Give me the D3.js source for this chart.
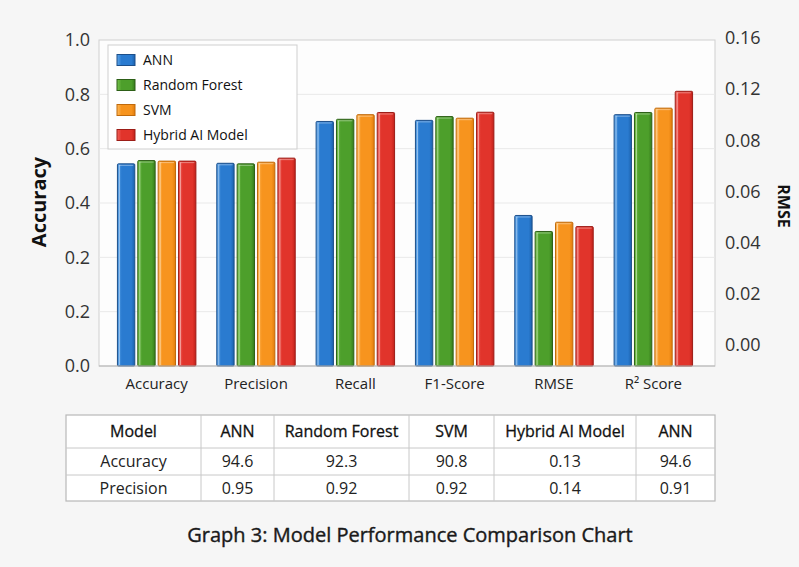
<!DOCTYPE html>
<html>
<head>
<meta charset="utf-8">
<script src="https://cdnjs.cloudflare.com/ajax/libs/d3/7.8.5/d3.min.js"></script>
<style>
  html, body { margin: 0; padding: 0; background: #f6f6f6; }
  svg { display: block; font-family: "Open Sans", "Noto Sans", sans-serif; }
</style>
</head>
<body>
<div id="chart"></div>
<script>
// ---------- data ----------
const categories = ["Accuracy", "Precision", "Recall", "F1-Score", "RMSE", "R² Score"];
const models = ["ANN", "Random Forest", "SVM", "Hybrid AI Model"];
const annValues    = [0.546, 0.548, 0.702, 0.706, 0.356, 0.727];
const rfValues     = [0.558, 0.546, 0.710, 0.720, 0.297, 0.735];
const svmValues    = [0.556, 0.552, 0.727, 0.714, 0.331, 0.751];
const hybridValues = [0.556, 0.567, 0.735, 0.736, 0.315, 0.813];
const leftTickValues = [-0.2, 0, 0.2, 0.4, 0.6, 0.8, 1.0];
const leftTickLabels = ["0.0", "0.2", "0.2", "0.4", "0.6", "0.8", "1.0"];
const rightTickLabels = ["0.00", "0.02", "0.04", "0.06", "0.08", "0.12", "0.16"];
const tableHeader = ["Model", "ANN", "Random Forest", "SVM", "Hybrid AI Model", "ANN"];
const accuracyRow = ["Accuracy", "94.6", "92.3", "90.8", "0.13", "94.6"];
const precisionRow = ["Precision", "0.95", "0.92", "0.92", "0.14", "0.91"];
const titleText = "Graph 3: Model Performance Comparison Chart";

const seriesValues = [annValues, rfValues, svmValues, hybridValues];
const palette = [
  { light: "#5ea6ea", base: "#2a7bd0", dark: "#1c62ad", stroke: "#1d4f8a" },
  { light: "#78c54e", base: "#4d9f2b", dark: "#377d1c", stroke: "#2d5f17" },
  { light: "#ffbb5c", base: "#f7941e", dark: "#e27d0d", stroke: "#c06a0c" },
  { light: "#f2645d", base: "#e1342b", dark: "#c2221b", stroke: "#9c1d17" }
];

// ---------- layout ----------
const W = 799, H = 567;
const plot = { left: 99, right: 715, top: 40, bottom: 366 };

const svg = d3.select("#chart").append("svg").attr("width", W).attr("height", H);
svg.append("rect").attr("width", W).attr("height", H).attr("fill", "#f6f6f6");

const defs = svg.append("defs");
palette.forEach((p, i) => {
  const g = defs.append("linearGradient").attr("id", "grad" + i)
    .attr("x1", "0%").attr("x2", "100%").attr("y1", "0%").attr("y2", "0%");
  g.append("stop").attr("offset", "0%").attr("stop-color", p.light);
  g.append("stop").attr("offset", "25%").attr("stop-color", p.base);
  g.append("stop").attr("offset", "80%").attr("stop-color", p.base);
  g.append("stop").attr("offset", "100%").attr("stop-color", p.dark);
});

// plot background + frame
svg.append("rect")
  .attr("x", plot.left).attr("y", plot.top)
  .attr("width", plot.right - plot.left).attr("height", plot.bottom - plot.top)
  .attr("fill", "#fdfdfd").attr("stroke", "#cfcfcf").attr("stroke-width", 1);

// scales
const y = d3.scaleLinear().domain([-0.2, 1.0]).range([plot.bottom, plot.top]);
const x0 = d3.scaleBand().domain(categories)
  .range([plot.left + 8, plot.right - 12]).paddingInner(0.2).paddingOuter(0.1);
const x1 = d3.scaleBand().domain(models).range([0, x0.bandwidth()]).paddingInner(0.1);
const yRight = d3.scalePoint().domain(rightTickLabels).range([345, 38]);

// gridlines
svg.append("g").selectAll("line").data(leftTickValues.slice(1, -1)).join("line")
  .attr("x1", plot.left).attr("x2", plot.right)
  .attr("y1", d => y(d)).attr("y2", d => y(d))
  .attr("stroke", "#e9e9e9").attr("stroke-width", 1);

// left axis
const leftAxis = d3.axisLeft(y).tickValues(leftTickValues)
  .tickFormat((d, i) => leftTickLabels[i]).tickSize(0).tickPadding(9);
const gl = svg.append("g").attr("transform", `translate(${plot.left},0)`).call(leftAxis);
gl.select(".domain").remove();
gl.selectAll("text").attr("font-size", 18).attr("fill", "#333")
  .attr("font-family", "'Open Sans', sans-serif");

// right axis
const rightAxis = d3.axisRight(yRight).tickSize(0).tickPadding(10);
const gr = svg.append("g").attr("transform", `translate(${plot.right},0)`).call(rightAxis);
gr.select(".domain").remove();
gr.selectAll("text").attr("font-size", 18).attr("fill", "#333")
  .attr("font-family", "'Open Sans', sans-serif");

// bars
const groups = svg.append("g").selectAll("g").data(categories).join("g")
  .attr("transform", d => `translate(${x0(d)},0)`);
const barData = (c, ci) => models.map((m, mi) => ({ m, mi, v: seriesValues[mi][ci] }));
groups.selectAll("rect.bar").data(barData)
  .join("rect").attr("class", "bar")
  .attr("x", d => x1(d.m) + 0.5)
  .attr("y", d => y(d.v) + 0.5)
  .attr("width", x1.bandwidth() - 1)
  .attr("height", d => y(-0.2) - y(d.v) - 0.5)
  .attr("rx", 1)
  .attr("fill", d => `url(#grad${d.mi})`)
  .attr("stroke", d => palette[d.mi].stroke).attr("stroke-width", 1);
groups.selectAll("line.hl").data(barData)
  .join("line").attr("class", "hl")
  .attr("x1", d => x1(d.m) + 2.5).attr("x2", d => x1(d.m) + 2.5)
  .attr("y1", d => y(d.v) + 2).attr("y2", y(-0.2) - 1)
  .attr("stroke", "#ffffff").attr("stroke-opacity", 0.45).attr("stroke-width", 1);
groups.selectAll("line.top").data(barData)
  .join("line").attr("class", "top")
  .attr("x1", d => x1(d.m) + 2).attr("x2", d => x1(d.m) + x1.bandwidth() - 2)
  .attr("y1", d => y(d.v) + 2).attr("y2", d => y(d.v) + 2)
  .attr("stroke", "#ffffff").attr("stroke-opacity", 0.4).attr("stroke-width", 1);

// baseline
svg.append("line").attr("x1", plot.left).attr("x2", plot.right)
  .attr("y1", plot.bottom).attr("y2", plot.bottom)
  .attr("stroke", "#b5b5b5").attr("stroke-width", 1.2);

// x axis labels
const bottomAxis = d3.axisBottom(x0).tickSize(0).tickPadding(12);
const gb = svg.append("g").attr("transform", `translate(0,${plot.bottom})`).call(bottomAxis);
gb.select(".domain").remove();
gb.selectAll("text").attr("font-size", 15).attr("fill", "#222")
  .attr("font-family", "'Open Sans', sans-serif");

// axis titles
svg.append("text").attr("transform", "translate(46,202) rotate(-90)")
  .attr("text-anchor", "middle").attr("font-size", 20).attr("font-weight", 700)
  .attr("fill", "#111").text("Accuracy");
svg.append("text").attr("transform", "translate(778,206) rotate(90)")
  .attr("text-anchor", "middle").attr("font-size", 16).attr("font-weight", 700)
  .attr("fill", "#111").text("RMSE");

// legend
const lg = svg.append("g").attr("transform", "translate(108,45)");
lg.append("rect").attr("width", 189).attr("height", 104)
  .attr("fill", "#ffffff").attr("stroke", "#cfcfcf").attr("stroke-width", 1);
const li = lg.selectAll("g").data(models).join("g")
  .attr("transform", (d, i) => `translate(9,${15 + i * 25})`);
li.append("rect").attr("x", 0).attr("y", -5.5).attr("width", 18).attr("height", 11)
  .attr("fill", (d, i) => `url(#grad${i})`)
  .attr("stroke", (d, i) => palette[i].stroke).attr("stroke-width", 1);
li.append("text").attr("x", 26).attr("y", 0).attr("dy", "0.35em")
  .attr("font-size", 14).attr("fill", "#111").text(d => d);

// table
const colEdges = [66, 201, 274, 409, 494, 636, 715];
const rowEdges = [415, 448, 475, 501];
const tableRows = [tableHeader, accuracyRow, precisionRow];
const tg = svg.append("g");
tg.append("rect").attr("x", colEdges[0]).attr("y", rowEdges[0])
  .attr("width", colEdges[colEdges.length - 1] - colEdges[0])
  .attr("height", rowEdges[rowEdges.length - 1] - rowEdges[0])
  .attr("fill", "#ffffff").attr("stroke", "#b8b8b8").attr("stroke-width", 1.2);
tg.selectAll("line.h").data(rowEdges.slice(1, -1)).join("line").attr("class", "h")
  .attr("x1", colEdges[0]).attr("x2", colEdges[colEdges.length - 1])
  .attr("y1", d => d).attr("y2", d => d).attr("stroke", "#c8c8c8");
tg.selectAll("line.v").data(colEdges.slice(1, -1)).join("line").attr("class", "v")
  .attr("y1", rowEdges[0]).attr("y2", rowEdges[rowEdges.length - 1])
  .attr("x1", d => d).attr("x2", d => d).attr("stroke", "#c8c8c8");
tableRows.forEach((row, ri) => {
  row.forEach((cell, ci) => {
    const t = tg.append("text")
      .attr("x", (colEdges[ci] + colEdges[ci + 1]) / 2)
      .attr("y", (rowEdges[ri] + rowEdges[ri + 1]) / 2)
      .attr("dy", "0.35em").attr("text-anchor", "middle")
      .attr("font-size", 16).attr("font-weight", 400)
      .attr("fill", ri === 0 ? "#111" : "#222").text(cell);
    if (ri === 0) t.attr("stroke", "#111").attr("stroke-width", 0.3);
  });
});

// title
svg.append("text").attr("x", 410).attr("y", 535).attr("dy", "0.35em")
  .attr("text-anchor", "middle").attr("font-size", 20).attr("font-weight", 400)
  .attr("fill", "#1a1a1a").attr("stroke", "#1a1a1a").attr("stroke-width", 0.4)
  .text(titleText);
</script>
</body>
</html>
